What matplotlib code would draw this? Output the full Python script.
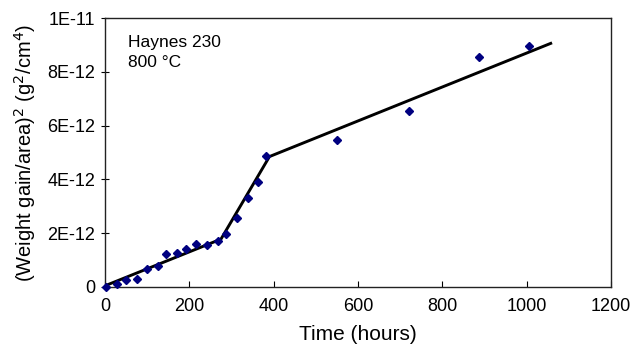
import matplotlib
matplotlib.use("Agg")
import matplotlib.pyplot as plt

plt.rcParams["font.family"] = ["Liberation Sans", "DejaVu Sans"]

# measured points (hours, (g/cm^2)^2)
time_h = [2, 28, 50, 75, 100, 125, 144, 170, 193, 217, 242, 267, 288,
          312, 338, 364, 383, 551, 721, 888, 1006]
gain_sq = [0.01, 0.10, 0.26, 0.29, 0.67, 0.78, 1.22, 1.25, 1.40, 1.60,
           1.55, 1.72, 1.96, 2.58, 3.30, 3.89, 4.87, 5.46, 6.54, 8.54, 8.97]
gain_sq = [v * 1e-12 for v in gain_sq]

# piecewise linear fit
fit_t = [4, 275, 390, 1057]
fit_y = [0.07e-12, 1.78e-12, 4.85e-12, 9.06e-12]

yticks = [0, 2e-12, 4e-12, 6e-12, 8e-12, 1e-11]
ytick_labels = ["0", "2E-12", "4E-12", "6E-12", "8E-12", "1E-11"]
xticks = [0, 200, 400, 600, 800, 1000, 1200]

fig = plt.figure(figsize=(6.31, 3.48), dpi=100)
ax = fig.add_axes([0.1664, 0.1753, 0.8019, 0.7727])

ax.plot(fit_t, fit_y, color="black", linewidth=2.1, zorder=2)
ax.plot(time_h, gain_sq, linestyle="none", marker="D", markersize=4.5,
        color="#000080", zorder=3, clip_on=False)

ax.set_xlim(0, 1200)
ax.set_ylim(0, 1e-11)
ax.set_xticks(xticks)
ax.set_yticks(yticks)
ax.set_yticklabels(ytick_labels)
ax.tick_params(axis="x", direction="in", length=4, labelsize=13, pad=8)
ax.tick_params(axis="y", direction="inout", length=6, labelsize=13, pad=4)
for s in ax.spines.values():
    s.set_linewidth(1.0)
    s.set_color("#222222")

ax.set_xlabel("Time (hours)", fontsize=15, labelpad=7)
ax.set_ylabel("(Weight gain/area)$^2$ (g$^2$/cm$^4$)", fontsize=14.5, labelpad=7)

ax.text(55, 9.1e-12, "Haynes 230", fontsize=12.5, va="center")
ax.text(55, 8.35e-12, "800 °C", fontsize=12.5, va="center")

fig.savefig("out.png", dpi=100, facecolor="white")
